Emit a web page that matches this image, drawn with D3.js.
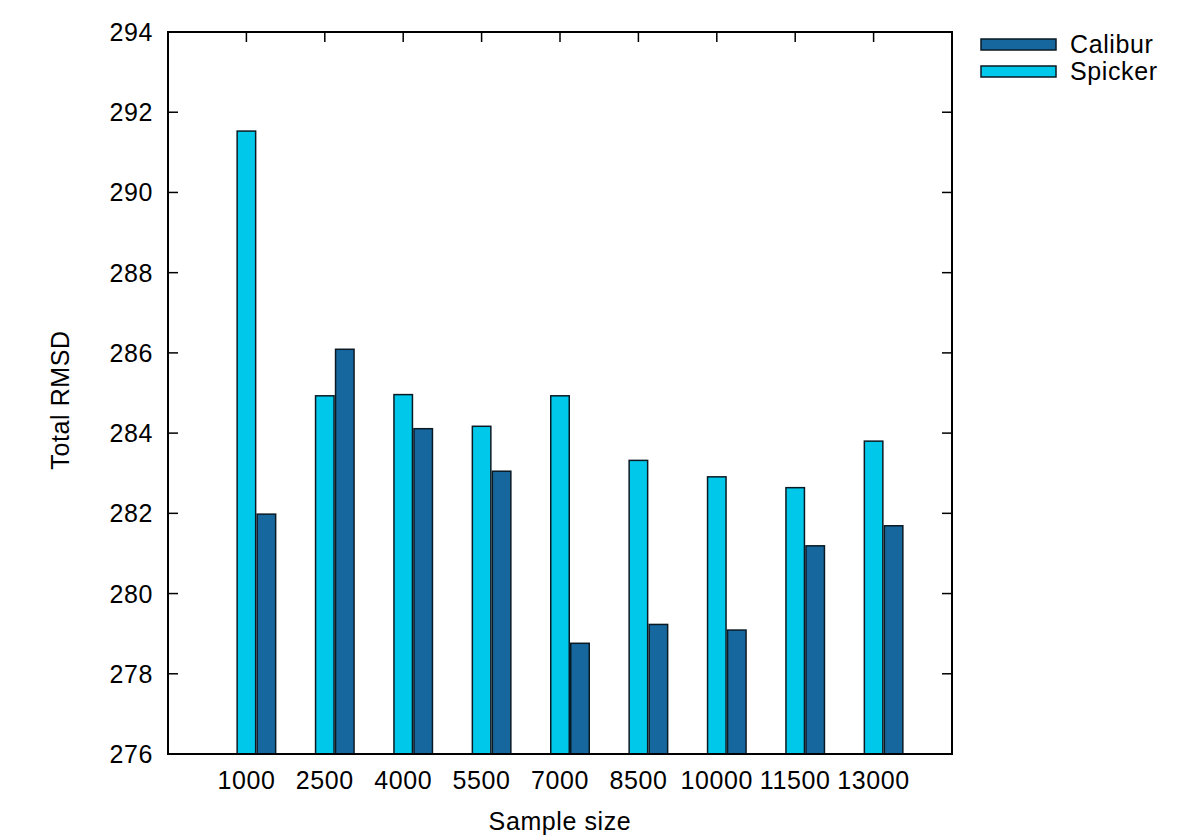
<!DOCTYPE html>
<html>
<head>
<meta charset="utf-8">
<script src="https://cdn.jsdelivr.net/npm/d3@7"></script>
<style>
  body { margin: 0; background: #fff; }
  text { font-family: "Liberation Sans", Arial, sans-serif; fill: #000; letter-spacing: 0.6px; }
</style>
</head>
<body>
<svg width="1200" height="840"></svg>
<script>
const categories = ['1000', '2500', '4000', '5500', '7000', '8500', '10000', '11500', '13000'];
const spicker = [291.53, 284.93, 284.96, 284.17, 284.93, 283.32, 282.91, 282.64, 283.80];
const calibur = [281.98, 286.09, 284.11, 283.05, 278.76, 279.23, 279.09, 281.19, 281.69];
const yTicks = [276, 278, 280, 282, 284, 286, 288, 290, 292, 294];

const svg = d3.select('svg');

const plotLeft = 168, plotRight = 952, plotTop = 32, plotBottom = 754;
const barW = 18.5;
const fs = 25;

const x = d3.scaleLinear()
  .domain([-1, categories.length])
  .range([plotLeft, plotRight]);

const y = d3.scaleLinear()
  .domain([276, 294])
  .range([plotBottom, plotTop]);

const g = svg.append('g');

// ticks (drawn first so bars sit on top)
const tickLen = 10;
g.selectAll('.ytl').data(yTicks).enter().append('line')
  .attr('x1', plotLeft).attr('x2', plotLeft + tickLen)
  .attr('y1', d => y(d)).attr('y2', d => y(d))
  .attr('stroke', '#000').attr('stroke-width', 1.5);
g.selectAll('.ytr').data(yTicks).enter().append('line')
  .attr('x1', plotRight).attr('x2', plotRight - tickLen)
  .attr('y1', d => y(d)).attr('y2', d => y(d))
  .attr('stroke', '#000').attr('stroke-width', 1.5);
g.selectAll('.xtb').data(categories).enter().append('line')
  .attr('x1', (d, i) => x(i)).attr('x2', (d, i) => x(i))
  .attr('y1', plotBottom).attr('y2', plotBottom - tickLen)
  .attr('stroke', '#000').attr('stroke-width', 1.5);
g.selectAll('.xtt').data(categories).enter().append('line')
  .attr('x1', (d, i) => x(i)).attr('x2', (d, i) => x(i))
  .attr('y1', plotTop).attr('y2', plotTop + tickLen)
  .attr('stroke', '#000').attr('stroke-width', 1.5);

// bars
const lightBlue = '#00c8ea';
const darkBlue = '#17679f';

g.selectAll('.sp').data(spicker).enter().append('rect')
  .attr('x', (d, i) => x(i) - barW / 2)
  .attr('width', barW)
  .attr('y', d => y(d))
  .attr('height', d => plotBottom - y(d))
  .attr('fill', lightBlue)
  .attr('stroke', '#0a1a24').attr('stroke-width', 1.5);

g.selectAll('.cb').data(calibur).enter().append('rect')
  .attr('x', (d, i) => x(i) + barW / 2 + 1.5)
  .attr('width', barW)
  .attr('y', d => y(d))
  .attr('height', d => plotBottom - y(d))
  .attr('fill', darkBlue)
  .attr('stroke', '#0a1a24').attr('stroke-width', 1.5);

// frame
g.append('rect')
  .attr('x', plotLeft).attr('y', plotTop)
  .attr('width', plotRight - plotLeft).attr('height', plotBottom - plotTop)
  .attr('fill', 'none').attr('stroke', '#000').attr('stroke-width', 2);

// tick labels
g.selectAll('.yl').data(yTicks).enter().append('text')
  .attr('x', plotLeft - 15)
  .attr('y', d => y(d) + 9)
  .attr('text-anchor', 'end')
  .attr('font-size', fs)
  .text(d => d);

g.selectAll('.xl').data(categories).enter().append('text')
  .attr('x', (d, i) => x(i))
  .attr('y', plotBottom + 35)
  .attr('text-anchor', 'middle')
  .attr('font-size', fs)
  .text(d => d);

// axis titles
svg.append('text')
  .attr('x', 560).attr('y', 830)
  .attr('text-anchor', 'middle')
  .attr('font-size', fs)
  .text('Sample size');

svg.append('text')
  .attr('transform', 'translate(69, 400) rotate(-90)')
  .attr('text-anchor', 'middle')
  .attr('font-size', fs)
  .text('Total RMSD');

// legend
const legend = [
  { name: 'Calibur', color: darkBlue },
  { name: 'Spicker', color: lightBlue }
];
const lg = svg.append('g');
lg.selectAll('rect').data(legend).enter().append('rect')
  .attr('x', 981).attr('y', (d, i) => 39 + i * 27)
  .attr('width', 75).attr('height', 11)
  .attr('fill', d => d.color)
  .attr('stroke', '#0a1a24').attr('stroke-width', 1.5);
lg.selectAll('text').data(legend).enter().append('text')
  .attr('x', 1070).attr('y', (d, i) => 53 + i * 27)
  .attr('font-size', fs)
  .text(d => d.name);
</script>
</body>
</html>
